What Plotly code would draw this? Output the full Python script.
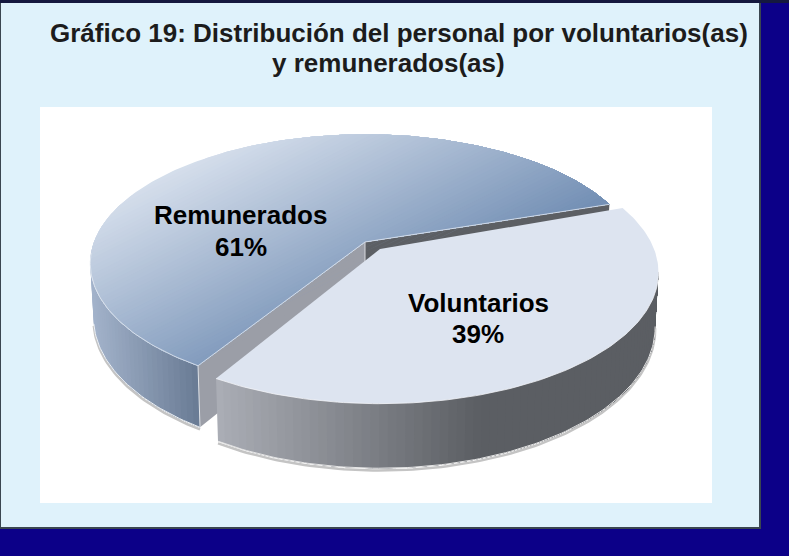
import math
import plotly.graph_objects as go

# ---- data ----
categories = ["Voluntarios", "Remunerados"]
values = [39, 61]
title_lines = ["Gráfico 19: Distribución del personal por voluntarios(as)", "y remunerados(as)"]

# ---- projection of the tilted pie into the pixel-scaled axes ----
W, H = 789, 556
DEPTH = 53.0
SPAN_REM = 360.0 * values[1] / sum(values)
SPAN_VOL = 360.0 * values[0] / sum(values)
REM = dict(apex=(365.0, 242.0), A=271.0, B=125.5, K=0.165, start=18.4)
VOL = dict(apex=(380.0, 249.0), A=274.0, B=127.0, K=0.179, start=20.0 + SPAN_REM)
REM_END = REM["start"] + SPAN_REM
VOL_END = VOL["start"] + SPAN_VOL


def pt(s, deg, drop=0.0):
    t = math.radians(deg)
    u, v = math.cos(t), math.sin(t)
    d = 1.0 + s["K"] * v
    a = s["A"] * (0.988 if drop else 1.0)
    return (s["apex"][0] + a * u / d, s["apex"][1] - s["B"] * v / d + drop / d)


def arc(s, a0, a1, drop=0.0, step=1.0):
    n = max(2, int(abs(a1 - a0) / step) + 1)
    return [pt(s, a0 + (a1 - a0) * i / (n - 1), drop) for i in range(n)]


def mix(c0, c1, f):
    f = max(0.0, min(1.0, f))
    return "rgb(%d,%d,%d)" % tuple(round(c0[i] + (c1[i] - c0[i]) * f) for i in range(3))


def clip_above(poly_pts, nx, ny, limit):
    out = []
    for i in range(len(poly_pts)):
        p, q = poly_pts[i], poly_pts[(i + 1) % len(poly_pts)]
        dp = (p[0] * nx + p[1] * ny) - limit
        dq = (q[0] * nx + q[1] * ny) - limit
        if dp >= 0:
            out.append(p)
        if (dp >= 0) != (dq >= 0):
            f = dp / (dp - dq)
            out.append((p[0] + (q[0] - p[0]) * f, p[1] + (q[1] - p[1]) * f))
    return out


fig = go.Figure()


def poly(points, color):
    xs = [p[0] for p in points] + [points[0][0]]
    ys = [p[1] for p in points] + [points[0][1]]
    fig.add_trace(go.Scatter(x=xs, y=ys, mode="lines", fill="toself", fillcolor=color,
                             line=dict(color=color, width=0), hoverinfo="skip", showlegend=False))


def stroke(points, color, lw):
    fig.add_trace(go.Scatter(x=[p[0] for p in points], y=[p[1] for p in points], mode="lines",
                             line=dict(color=color, width=lw), hoverinfo="skip", showlegend=False))


def wall(s, a0, a1, x0, x1, c0, c1, step=1.5):
    # each band is painted from its angle to the wall's end, so no seams appear
    n = int(abs(a1 - a0) / step)
    for i in range(n):
        p = a0 + (a1 - a0) * i / n
        q = a0 + (a1 - a0) * (i + 1) / n
        xm = pt(s, (p + q) / 2)[0]
        poly(arc(s, p, a1, 0, 1.0) + arc(s, a1, p, DEPTH, 1.0), mix(c0, c1, (xm - x0) / (x1 - x0)))


def gradient_top(points, nx, ny, t0, t1, c0, c1, bands=64):
    ts = [p[0] * nx + p[1] * ny for p in points]
    lo, hi = min(ts), max(ts)
    for i in range(bands):
        a = lo + (hi - lo) * i / bands
        b = lo + (hi - lo) * (i + 1) / bands
        piece = clip_above(points, nx, ny, a) if i else points
        if len(piece) >= 3:
            poly(piece, mix(c0, c1, ((a + b) / 2 - t0) / (t1 - t0)))


VOL_WALL_END = VOL_END - 30

# shadows under the side walls
stroke(arc(REM, 192, REM_END, DEPTH + 1.8), "#c4c4c4", 2.5)
stroke(arc(VOL, VOL["start"], VOL_WALL_END, DEPTH + 1.8), "#c4c4c4", 2.5)

# Remunerados: walls
wall(REM, 190, REM_END, 91, 203, (163, 179, 203), (102, 120, 145))
stroke(arc(REM, 192, REM_END, DEPTH), "#eef1f4", 1)
rem_a = REM["apex"]
poly([rem_a, pt(REM, REM["start"]), pt(REM, REM["start"], DEPTH), (rem_a[0], rem_a[1] + DEPTH)], "#5c5f64")
poly([rem_a, pt(REM, REM_END), pt(REM, REM_END, DEPTH), (rem_a[0], rem_a[1] + DEPTH)], "#9b9ea7")
stroke([pt(REM, REM_END), pt(REM, REM_END, DEPTH)], "#dfe3e8", 1)
stroke([rem_a, (rem_a[0], rem_a[1] + 22)], "#d8dade", 1)

# Remunerados: top face
rem_top = [rem_a] + arc(REM, REM["start"], REM_END)
gradient_top(rem_top, 1, 2, 510, 1000, (214, 223, 236), (116, 144, 181))
stroke(arc(REM, 185, REM_END) + [rem_a, pt(REM, REM["start"])], "#e6ebf2", 0.8)

# Voluntarios: wall and top face
wall(VOL, VOL["start"], VOL_WALL_END, 218, 480, (170, 173, 181), (91, 94, 99))
stroke(arc(VOL, VOL["start"], VOL_WALL_END, DEPTH), "#e6e6e6", 1)
vol_top = [VOL["apex"]] + arc(VOL, VOL["start"], VOL_END)
poly(vol_top, "#dde4f0")
stroke(arc(VOL, VOL["start"], VOL_WALL_END), "#f2f4f8", 0.8)

label_font = dict(family="Liberation Sans", size=26, color="#000000", weight="bold")
title_font = dict(family="Liberation Sans", size=26, color="#1c1c1c", weight="bold")


def label(x, y, text, font):
    return dict(x=x, y=y, xref="x", yref="y", showarrow=False, xanchor="center", yanchor="middle",
                text=text, font=font)


fig.update_layout(
    width=W, height=H, margin=dict(l=0, r=0, t=0, b=0), autosize=False,
    paper_bgcolor="#0c0088", plot_bgcolor="rgba(0,0,0,0)", showlegend=False,
    xaxis=dict(range=[0, W], visible=False, domain=[0, 1], fixedrange=True),
    yaxis=dict(range=[H, 0], visible=False, domain=[0, 1], fixedrange=True),
    shapes=[
        dict(type="rect", xref="x", yref="y", x0=0, x1=W, y0=0, y1=3, fillcolor="#15193f", line_width=0, layer="below"),
        dict(type="rect", xref="x", yref="y", x0=0, x1=761, y0=3, y1=529, fillcolor="#3a4650", line_width=0, layer="below"),
        dict(type="rect", xref="x", yref="y", x0=1, x1=759, y0=3, y1=527, fillcolor="#dff2fb", line_width=0, layer="below"),
        dict(type="rect", xref="x", yref="y", x0=40, x1=712, y0=107, y1=503, fillcolor="#ffffff", line_width=0, layer="below"),
    ],
    annotations=[
        label(398.5, 33, title_lines[0], title_font),
        label(388, 63, title_lines[1], title_font),
        label(240.5, 215, categories[1], label_font),
        label(240.5, 247, "%d%%" % values[1], label_font),
        label(478.5, 303, categories[0], label_font),
        label(477.5, 334, "%d%%" % values[0], label_font),
    ],
)

fig.write_html("out.html", config=dict(displayModeBar=False),
               post_script="document.body.style.margin='0';document.body.style.overflow='hidden';")
